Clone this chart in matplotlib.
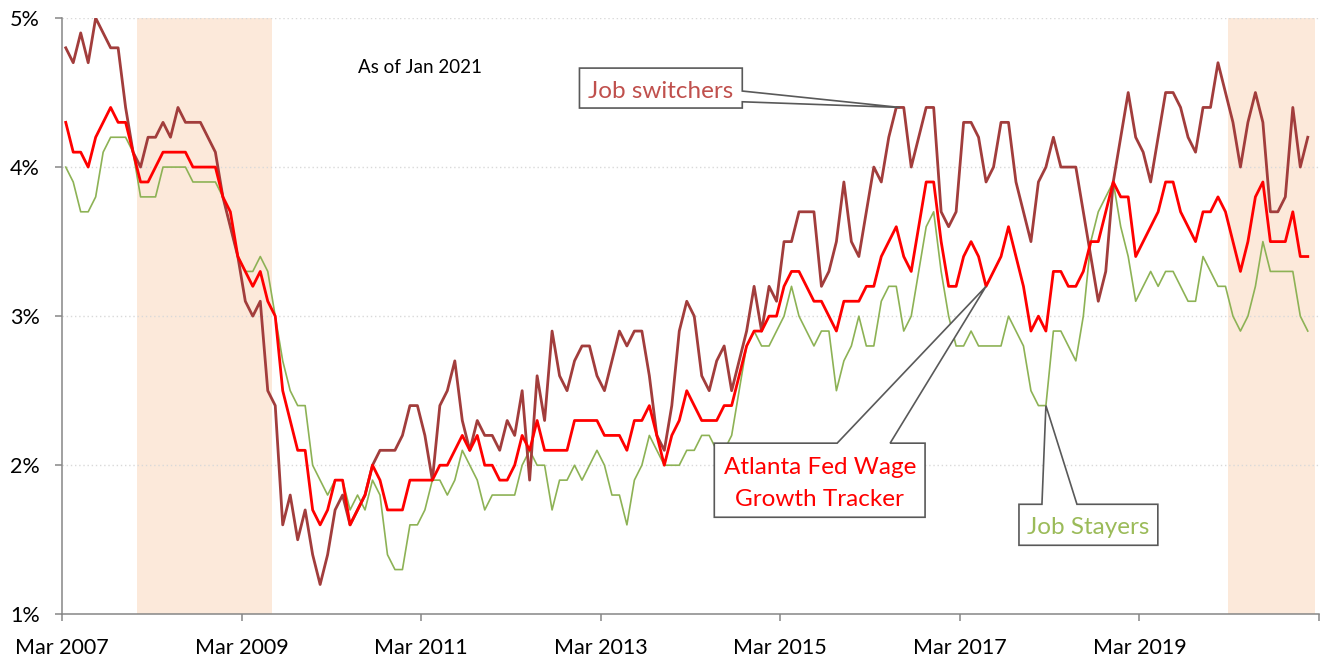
import matplotlib
matplotlib.use("Agg")
import matplotlib.pyplot as plt
from matplotlib.patches import Polygon
import numpy as np

plt.rcParams['font.family'] = ['Lato', 'DejaVu Sans']

# monthly, Mar 2007 .. Jan 2021 (3-month moving average of median wage growth, %)
job_switchers = [
    4.8, 4.7, 4.9, 4.7, 5.0, 4.9, 4.8, 4.8, 4.4, 4.1,
    4.0, 4.2, 4.2, 4.3, 4.2, 4.4, 4.3, 4.3, 4.3, 4.2,
    4.1, 3.8, 3.6, 3.4, 3.1, 3.0, 3.1, 2.5, 2.4, 1.6,
    1.8, 1.5, 1.7, 1.4, 1.2, 1.4, 1.7, 1.8, 1.6, 1.7,
    1.8, 2.0, 2.1, 2.1, 2.1, 2.2, 2.4, 2.4, 2.2, 1.9,
    2.4, 2.5, 2.7, 2.3, 2.1, 2.3, 2.2, 2.2, 2.1, 2.3,
    2.2, 2.5, 1.9, 2.6, 2.3, 2.9, 2.6, 2.5, 2.7, 2.8,
    2.8, 2.6, 2.5, 2.7, 2.9, 2.8, 2.9, 2.9, 2.6, 2.2,
    2.1, 2.4, 2.9, 3.1, 3.0, 2.6, 2.5, 2.7, 2.8, 2.5,
    2.7, 2.9, 3.2, 2.9, 3.2, 3.1, 3.5, 3.5, 3.7, 3.7,
    3.7, 3.2, 3.3, 3.5, 3.9, 3.5, 3.4, 3.7, 4.0, 3.9,
    4.2, 4.4, 4.4, 4.0, 4.2, 4.4, 4.4, 3.7, 3.6, 3.7,
    4.3, 4.3, 4.2, 3.9, 4.0, 4.3, 4.3, 3.9, 3.7, 3.5,
    3.9, 4.0, 4.2, 4.0, 4.0, 4.0, 3.7, 3.4, 3.1, 3.3,
    3.9, 4.2, 4.5, 4.2, 4.1, 3.9, 4.2, 4.5, 4.5, 4.4,
    4.2, 4.1, 4.4, 4.4, 4.7, 4.5, 4.3, 4.0, 4.3, 4.5,
    4.3, 3.7, 3.7, 3.8, 4.4, 4.0, 4.2,
]

wage_tracker = [
    4.3, 4.1, 4.1, 4.0, 4.2, 4.3, 4.4, 4.3, 4.3, 4.1,
    3.9, 3.9, 4.0, 4.1, 4.1, 4.1, 4.1, 4.0, 4.0, 4.0,
    4.0, 3.8, 3.7, 3.4, 3.3, 3.2, 3.3, 3.1, 3.0, 2.5,
    2.3, 2.1, 2.1, 1.7, 1.6, 1.7, 1.9, 1.9, 1.6, 1.7,
    1.8, 2.0, 1.9, 1.7, 1.7, 1.7, 1.9, 1.9, 1.9, 1.9,
    2.0, 2.0, 2.1, 2.2, 2.1, 2.2, 2.0, 2.0, 1.9, 1.9,
    2.0, 2.2, 2.1, 2.3, 2.1, 2.1, 2.1, 2.1, 2.3, 2.3,
    2.3, 2.3, 2.2, 2.2, 2.2, 2.1, 2.3, 2.3, 2.4, 2.2,
    2.0, 2.2, 2.3, 2.5, 2.4, 2.3, 2.3, 2.3, 2.4, 2.4,
    2.6, 2.8, 2.9, 2.9, 3.0, 3.0, 3.2, 3.3, 3.3, 3.2,
    3.1, 3.1, 3.0, 2.9, 3.1, 3.1, 3.1, 3.2, 3.2, 3.4,
    3.5, 3.6, 3.4, 3.3, 3.6, 3.9, 3.9, 3.5, 3.2, 3.2,
    3.4, 3.5, 3.4, 3.2, 3.3, 3.4, 3.6, 3.4, 3.2, 2.9,
    3.0, 2.9, 3.3, 3.3, 3.2, 3.2, 3.3, 3.5, 3.5, 3.7,
    3.9, 3.8, 3.8, 3.4, 3.5, 3.6, 3.7, 3.9, 3.9, 3.7,
    3.6, 3.5, 3.7, 3.7, 3.8, 3.7, 3.5, 3.3, 3.5, 3.8,
    3.9, 3.5, 3.5, 3.5, 3.7, 3.4, 3.4,
]

job_stayers = [
    4.0, 3.9, 3.7, 3.7, 3.8, 4.1, 4.2, 4.2, 4.2, 4.1,
    3.8, 3.8, 3.8, 4.0, 4.0, 4.0, 4.0, 3.9, 3.9, 3.9,
    3.9, 3.8, 3.6, 3.4, 3.3, 3.3, 3.4, 3.3, 3.0, 2.7,
    2.5, 2.4, 2.4, 2.0, 1.9, 1.8, 1.9, 1.9, 1.7, 1.8,
    1.7, 1.9, 1.8, 1.4, 1.3, 1.3, 1.6, 1.6, 1.7, 1.9,
    1.9, 1.8, 1.9, 2.1, 2.0, 1.9, 1.7, 1.8, 1.8, 1.8,
    1.8, 2.0, 2.1, 2.0, 2.0, 1.7, 1.9, 1.9, 2.0, 1.9,
    2.0, 2.1, 2.0, 1.8, 1.8, 1.6, 1.9, 2.0, 2.2, 2.1,
    2.0, 2.0, 2.0, 2.1, 2.1, 2.2, 2.2, 2.1, 2.1, 2.2,
    2.5, 2.8, 2.9, 2.8, 2.8, 2.9, 3.0, 3.2, 3.0, 2.9,
    2.8, 2.9, 2.9, 2.5, 2.7, 2.8, 3.0, 2.8, 2.8, 3.1,
    3.2, 3.2, 2.9, 3.0, 3.3, 3.6, 3.7, 3.3, 3.0, 2.8,
    2.8, 2.9, 2.8, 2.8, 2.8, 2.8, 3.0, 2.9, 2.8, 2.5,
    2.4, 2.4, 2.9, 2.9, 2.8, 2.7, 3.0, 3.5, 3.7, 3.8,
    3.9, 3.6, 3.4, 3.1, 3.2, 3.3, 3.2, 3.3, 3.3, 3.2,
    3.1, 3.1, 3.4, 3.3, 3.2, 3.2, 3.0, 2.9, 3.0, 3.2,
    3.5, 3.3, 3.3, 3.3, 3.3, 3.0, 2.9,
]

tick_labels = ['Mar 2007', 'Mar 2009', 'Mar 2011', 'Mar 2013',
               'Mar 2015', 'Mar 2017', 'Mar 2019']
y_ticks = [1, 2, 3, 4, 5]

# recession shading, in month-index units
recessions = [(9.5, 27.5), (155.4, 166.9)]

months = np.arange(len(wage_tracker))

fig = plt.figure(figsize=(13.24, 6.58), dpi=100)
ax = fig.add_axes([62 / 1324, 1 - 614.3 / 658, (1319 - 62) / 1324, (614.3 - 18) / 658])

for start, end in recessions:
    ax.axvspan(start, end, color='#FCE9DA', lw=0, zorder=0)

for y in y_ticks[1:]:
    ax.axhline(y, color='#D9D9D9', lw=1.0, ls=(0, (1, 2)), zorder=0.5)

ax.plot(months, job_stayers, color='#8DB255', lw=1.2, zorder=2)
ax.plot(months, job_switchers, color='#A23D3C', lw=2.0, zorder=3)
ax.plot(months, wage_tracker, color='#FF0000', lw=2.0, zorder=4)

ax.set_xlim(-0.5, 167.5)
ax.set_ylim(1, 5)
ax.set_xticks(np.arange(-0.5, 168, 24))
ax.set_xticklabels(tick_labels + [''])
ax.set_yticks(y_ticks)
ax.set_yticklabels(['%d%%' % v for v in y_ticks])

for side in ['top', 'right']:
    ax.spines[side].set_visible(False)
for side in ['left', 'bottom']:
    ax.spines[side].set_color('#868686')
    ax.spines[side].set_linewidth(1.1)
ax.tick_params(axis='both', colors='#868686', width=1.1, length=5,
               labelcolor='#000000', labelsize=15.5)
ax.tick_params(axis='y', pad=11)
ax.tick_params(axis='x', pad=12)


def callout(box, wedge, tip, side):
    x0, x1, ytop, ybot = box
    if side == 'right':
        pts = [(x0, ytop), (x1, ytop), (x1, wedge[0]), tip,
               (x1, wedge[1]), (x1, ybot), (x0, ybot)]
    else:
        pts = [(x0, ytop), (wedge[0], ytop), tip, (wedge[1], ytop),
               (x1, ytop), (x1, ybot), (x0, ybot)]
    ax.add_patch(Polygon(pts, closed=True, facecolor='white',
                         edgecolor='#595959', lw=1.2, zorder=6, clip_on=False))


callout((68.66, 90.42, 4.664, 4.396), (4.510, 4.438),
        (111.5, job_switchers[111]), 'right')
ax.text(79.5, 4.465, 'Job switchers', color='#C0504D', fontsize=17.5,
        ha='center', va='baseline', zorder=7)

callout((86.68, 114.85, 2.148, 1.651), (103.1, 110.18),
        (123, wage_tracker[123]), 'top')
ax.text(100.77, 1.944, 'Atlanta Fed Wage', color='#FF0000', fontsize=17.5,
        ha='center', va='baseline', zorder=7)
ax.text(100.77, 1.725, 'Growth Tracker', color='#FF0000', fontsize=17.5,
        ha='center', va='baseline', zorder=7)

callout((127.4, 145.96, 1.738, 1.463), (130.47, 135.15),
        (131, job_stayers[131]), 'top')
ax.text(136.7, 1.537, 'Job Stayers', color='#9BBB59', fontsize=17.5,
        ha='center', va='baseline', zorder=7)

ax.text(39.0, 4.633, 'As of Jan 2021', color='#000000', fontsize=13.5,
        ha='left', va='baseline')

fig.savefig('out.png', dpi=100)
